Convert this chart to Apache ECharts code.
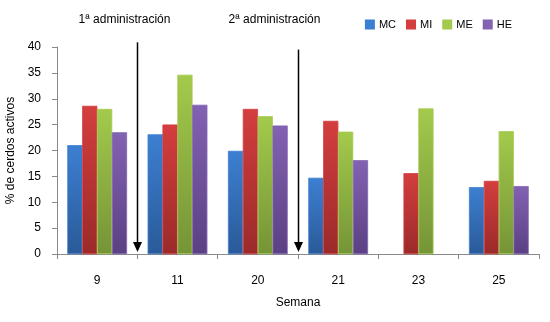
<!DOCTYPE html>
<html>
<head>
<meta charset="utf-8">
<script src="https://cdn.jsdelivr.net/npm/echarts@6/dist/echarts.min.js"></script>
<style>
  html, body { margin: 0; padding: 0; background: #ffffff; }
  #chart { width: 550px; height: 322px; }
</style>
</head>
<body>
<div id="chart"></div>
<script>
// Weeks sampled
const weeks = ['9', '11', '20', '21', '23', '25'];

// % of active pigs per group
const mc = [21.0, 23.1, 19.9, 14.7, null, 12.9];
const mi = [28.6, 25.0, 28.0, 25.7, 15.6, 14.1];
const me = [28.0, 34.6, 26.6, 23.6, 28.1, 23.7];
const he = [23.5, 28.8, 24.8, 18.1, null, 13.1];

const seriesNames = ['MC', 'MI', 'ME', 'HE'];
const seriesData = [mc, mi, me, he];

// Treatment events: arrow drawn between these week pairs, caption offset from it
const doses = [
  { label: '1ª administración', between: [0, 1], top: 40.9, captionDx: -13 },
  { label: '2ª administración', between: [2, 3], top: 39.5, captionDx: -24 }
];

const palette = [
  ['#3d7fd2', '#2a5a98'],
  ['#d43e3e', '#9b2a2a'],
  ['#a3ca4c', '#759437'],
  ['#8262b2', '#5b4083']
];

const font = '"Liberation Sans", Arial, sans-serif';
const chart = echarts.init(document.getElementById('chart'));

function grad(c) {
  return new echarts.graphic.LinearGradient(0, 0, 0, 1, [
    { offset: 0, color: c[0] },
    { offset: 1, color: c[1] }
  ]);
}

chart.setOption({
  animation: false,
  textStyle: { fontFamily: font },
  legend: {
    right: 33,
    top: 14,
    icon: 'rect',
    itemWidth: 8,
    itemHeight: 8,
    itemGap: 10,
    textStyle: { fontSize: 11, color: '#000', fontFamily: font },
    data: seriesNames.map((n, i) => ({ name: n, itemStyle: { color: palette[i][0] } }))
  },
  grid: { left: 57, right: 11, top: 47, bottom: 68, outerBoundsMode: 'none' },
  xAxis: {
    type: 'category',
    data: weeks,
    name: 'Semana',
    nameLocation: 'middle',
    nameGap: 43,
    nameTextStyle: { fontSize: 12, color: '#000', fontFamily: font },
    axisLine: { lineStyle: { color: '#8a8a8a' } },
    axisTick: { show: true, length: 5, lineStyle: { color: '#8a8a8a' } },
    axisLabel: { fontSize: 12, color: '#000', margin: 21, fontFamily: font }
  },
  yAxis: {
    type: 'value',
    min: 0,
    max: 40,
    interval: 5,
    name: '% de cerdos activos',
    nameLocation: 'middle',
    nameGap: 40,
    nameTextStyle: { fontSize: 12, color: '#000', fontFamily: font },
    splitLine: { show: false },
    axisLine: { show: true, lineStyle: { color: '#8a8a8a' } },
    axisTick: { show: true, length: 5, lineStyle: { color: '#8a8a8a' } },
    axisLabel: { fontSize: 12, color: '#000', margin: 16, fontFamily: font }
  },
  series: seriesNames.map((n, i) => ({
    name: n,
    type: 'bar',
    data: seriesData[i],
    barGap: '0%',
    barCategoryGap: '26%',
    itemStyle: { color: grad(palette[i]), borderColor: palette[i][0], borderWidth: 0.5 }
  }))
});

// Arrows and captions for each dose, placed through the axis scales
const gfx = [];
doses.forEach(d => {
  const a = chart.convertToPixel({ gridIndex: 0 }, [d.between[0], 0]);
  const b = chart.convertToPixel({ gridIndex: 0 }, [d.between[1], 0]);
  const x = Math.round((a[0] + b[0]) / 2) + 0.5;
  const yTop = chart.convertToPixel({ yAxisIndex: 0 }, d.top);
  const yBase = a[1] - 2;
  gfx.push({
    type: 'line',
    shape: { x1: x, y1: yTop, x2: x, y2: yBase - 9 },
    style: { stroke: '#000', lineWidth: 1.5 },
    z: 10
  });
  gfx.push({
    type: 'polygon',
    shape: { points: [[x - 4.5, yBase - 10], [x + 4.5, yBase - 10], [x, yBase]] },
    style: { fill: '#000' },
    z: 10
  });
  gfx.push({
    type: 'text',
    x: x + d.captionDx,
    y: 20,
    style: {
      text: d.label,
      fill: '#000',
      font: '12px ' + font,
      align: 'center',
      verticalAlign: 'middle'
    },
    z: 10
  });
});
chart.setOption({ graphic: gfx });
</script>
</body>
</html>
